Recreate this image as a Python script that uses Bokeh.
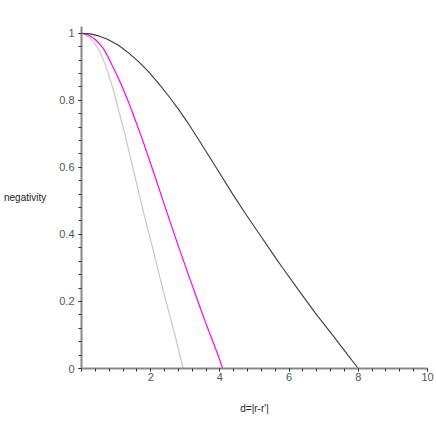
from bokeh.plotting import figure
from bokeh.models import FixedTicker, Range1d
from bokeh.embed import file_html
from bokeh.resources import INLINE

# ---- data ----
d_black = [0.0, 0.25, 0.5, 0.75, 1.07, 1.35, 1.65, 1.95, 2.22, 2.5, 2.79, 3.08, 3.51, 3.95, 4.37, 4.75,
           5.2, 5.61, 5.80, 6.3, 6.76, 7.33, 7.7, 8.0]
y_black = [1.0, 0.998, 0.992, 0.982, 0.964, 0.942, 0.915, 0.884, 0.851, 0.815, 0.775, 0.732, 0.662,
           0.590, 0.520, 0.460, 0.392, 0.330, 0.302, 0.230, 0.165, 0.090, 0.040, 0.0]

d_magenta = [0.0, 0.18, 0.36, 0.5, 0.64, 0.76, 0.88, 1.02, 1.17, 1.29, 1.41, 1.53, 1.65, 1.79, 1.93,
             2.12, 2.32, 2.56, 2.79, 2.96, 3.13, 3.30, 3.46, 3.63, 3.80, 3.95, 4.08]
y_magenta = [1.0, 0.996, 0.984, 0.971, 0.953, 0.931, 0.905, 0.876, 0.842, 0.812, 0.781, 0.748, 0.714,
             0.674, 0.632, 0.574, 0.512, 0.438, 0.368, 0.318, 0.268, 0.219, 0.173, 0.125, 0.080, 0.039, 0.0]

d_gray = [0.0, 0.21, 0.35, 0.5, 0.6, 0.69, 0.79, 0.88, 0.98, 1.07, 1.17, 1.27, 1.38, 1.50, 1.62, 1.74,
          1.91, 2.08, 2.24, 2.41, 2.56, 2.70, 2.82, 2.94]
y_gray = [1.0, 0.989, 0.975, 0.950, 0.928, 0.904, 0.875, 0.845, 0.808, 0.771, 0.732, 0.692, 0.644,
          0.592, 0.540, 0.488, 0.418, 0.350, 0.282, 0.214, 0.155, 0.100, 0.050, 0.0]

x_ticks = [2, 4, 6, 8, 10]
x_tick_labels = ["2", "4", "6", "8", "10"]
x_minor = [0.4 * i for i in range(26)]
y_ticks = [0.0, 0.2, 0.4, 0.6, 0.8, 1.0]
y_tick_labels = ["0", "0.2", "0.4", "0.6", "0.8", "1"]
y_minor = [0.04 * i for i in range(26)]

x_title = "d=|r-r'|"
y_title = "negativity"

FONT = "Liberation Sans"

p = figure(width=436, height=436, output_backend="svg", toolbar_location=None,
           x_range=Range1d(0, 10), y_range=Range1d(0, 1.02),
           min_border_left=77, min_border_right=9, min_border_top=26, min_border_bottom=68)
p.outline_line_color = None
p.xgrid.visible = False
p.ygrid.visible = False
p.background_fill_color = "white"
p.border_fill_color = "white"

p.line(d_gray, y_gray, line_color="#c8c8c8", line_width=1.2)
p.line(d_magenta, y_magenta, line_color="#ff00ff", line_width=1.2)
p.line(d_black, y_black, line_color="#3a3a3a", line_width=1.1)

for ax in (p.xaxis[0], p.yaxis[0]):
    ax.axis_line_color = "#888888"
    ax.axis_line_width = 2
    ax.major_tick_line_color = "#333333"
    ax.minor_tick_line_color = "#333333"
    ax.major_tick_in = 0
    ax.minor_tick_in = 0
    ax.major_tick_out = 3
    ax.minor_tick_out = 3
    ax.major_label_text_font = FONT
    ax.major_label_text_font_size = "11px"
    ax.major_label_text_color = "#555555"
    ax.axis_label_text_font = FONT
    ax.axis_label_text_font_size = "10px"
    ax.axis_label_text_font_style = "normal"
    ax.axis_label_text_color = "#222222"

p.xaxis[0].ticker = FixedTicker(ticks=x_ticks, minor_ticks=x_minor)
p.xaxis[0].major_label_overrides = {t: l for t, l in zip(x_ticks, x_tick_labels)}
p.xaxis[0].major_label_standoff = 1
p.xaxis[0].axis_label = x_title
p.xaxis[0].axis_label_standoff = 19

p.yaxis[0].ticker = FixedTicker(ticks=y_ticks, minor_ticks=y_minor)
p.yaxis[0].major_label_overrides = {t: l for t, l in zip(y_ticks, y_tick_labels)}
p.yaxis[0].major_label_standoff = 4
p.yaxis[0].axis_label = y_title
p.yaxis[0].axis_label_standoff = 10
try:
    p.yaxis[0].axis_label_orientation = "horizontal"
except Exception:
    pass

open("out.html", "w").write(file_html(p, INLINE))
